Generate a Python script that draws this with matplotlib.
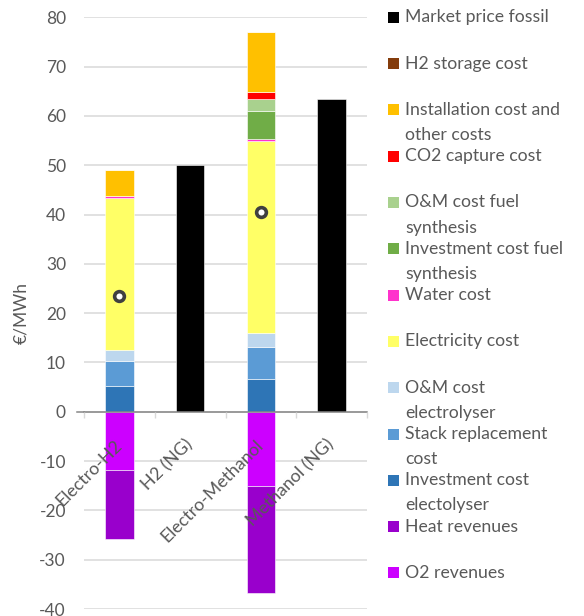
import matplotlib
matplotlib.use("Agg")
import matplotlib.pyplot as plt
import numpy as np
from matplotlib.patches import Rectangle

plt.rcParams['font.family'] = ['Lato', 'DejaVu Sans']
plt.rcParams['axes.unicode_minus'] = False

categories = ["Electro-H2", "H2 (NG)", "Electro-Methanol", "Methanol (NG)"]

# cost components per category (EUR/MWh), stacked from bottom up
invest_elec = [5.2, 0, 6.6, 0]
stack_repl = [5.1, 0, 6.5, 0]
om_elec = [2.2, 0, 2.9, 0]
electricity = [30.9, 0, 38.9, 0]
water = [0.4, 0, 0.4, 0]
invest_fuel = [0, 0, 5.6, 0]
om_fuel = [0, 0, 2.5, 0]
co2_capture = [0, 0, 1.4, 0]
h2_storage = [0, 0, 0, 0]
installation = [5.3, 0, 12.2, 0]
market_fossil = [0, 50.0, 0, 63.4]

# revenues (negative), stacked downwards
o2_rev = [-11.8, 0, -15.0, 0]
heat_rev = [-14.0, 0, -21.8, 0]

# net production cost markers
net_cost = [23.5, np.nan, 40.5, np.nan]

positive = [
    (invest_elec, "Investment cost\nelectolyser", "#2E75B6"),
    (stack_repl, "Stack replacement\ncost", "#5B9BD5"),
    (om_elec, "O&M cost\nelectrolyser", "#BDD7EE"),
    (electricity, "Electricity cost", "#FFFF66"),
    (water, "Water cost", "#FF33CC"),
    (invest_fuel, "Investment cost fuel\nsynthesis", "#70AD47"),
    (om_fuel, "O&M cost fuel\nsynthesis", "#A9D18E"),
    (co2_capture, "CO2 capture cost", "#FF0000"),
    (h2_storage, "H2 storage cost", "#843C0C"),
    (installation, "Installation cost and\nother costs", "#FFC000"),
    (market_fossil, "Market price fossil", "#000000"),
]
negative = [
    (o2_rev, "O2 revenues", "#CC00FF"),
    (heat_rev, "Heat revenues", "#9900CC"),
]

W, H = 584, 616
fig = plt.figure(figsize=(W / 100, H / 100), dpi=100)
ax = fig.add_axes([84 / W, (H - 609) / H, (367 - 84) / W, (609 - 17.3) / H])

x = np.arange(len(categories))
bar_w = 0.4
text_col = "#595959"
fs = 12.7

bottom = np.zeros(len(categories))
for vals, label, col in positive:
    v = np.array(vals, dtype=float)
    ax.bar(x, v, bar_w, bottom=bottom, color=col, edgecolor="white", linewidth=0.4, zorder=3)
    bottom += v

bottom = np.zeros(len(categories))
for vals, label, col in negative:
    v = np.array(vals, dtype=float)
    ax.bar(x, v, bar_w, bottom=bottom, color=col, edgecolor="white", linewidth=0.4, zorder=3)
    bottom += v

ax.plot(x, net_cost, "o", markersize=7, markerfacecolor="white",
        markeredgecolor="#404040", markeredgewidth=2.6, zorder=5)

ax.set_xlim(-0.5, len(categories) - 0.5)
ax.set_ylim(-40, 80)
ax.set_yticks(np.arange(-40, 81, 10))
ax.yaxis.grid(True, color="#D9D9D9", linewidth=1.1)
ax.yaxis.set_zorder(1)
ax.tick_params(axis="y", length=0, labelsize=12.5, labelcolor=text_col, pad=13)

ax.spines['left'].set_visible(False)
ax.spines['right'].set_visible(False)
ax.spines['top'].set_visible(False)
ax.spines['bottom'].set_position(('data', 0))
ax.spines['bottom'].set_color("#868686")
ax.spines['bottom'].set_linewidth(1.1)
ax.spines['bottom'].set_zorder(4)
ax.axhline(0, xmin=-0.025, xmax=0, color="#868686", linewidth=1.1, clip_on=False)

ax.set_xticks(np.arange(-0.5, len(categories), 1.0))
ax.set_xticklabels([])
ax.tick_params(axis="x", which="major", direction="out", length=4.5, width=1, color="#D9D9D9")
ax.set_xticks(x, minor=True)
ax.set_xticklabels(categories, minor=True, rotation=45, ha="right", va="center",
                   rotation_mode="anchor", fontsize=12.8, color=text_col)
ax.tick_params(axis="x", which="minor", length=0, pad=22)
ax.xaxis.set_zorder(6)

ax.set_ylabel("€/MWh", fontsize=12.5, color=text_col, labelpad=7)

# legend in Excel style: one row per entry, square aligned with first line
legend_items = [positive[10], positive[8], positive[9], positive[7], positive[6],
                positive[5], positive[4], positive[3], positive[2], positive[1],
                positive[0], negative[1], negative[0]]
y0, step, line_h = 17.3, 46.3, 25
for i, (vals, label, col) in enumerate(legend_items):
    yc = y0 + i * step
    fig.add_artist(Rectangle((388 / W, 1 - (yc + 5.5) / H), 11 / W, 11 / H,
                             transform=fig.transFigure, facecolor=col, edgecolor="none"))
    for j, line in enumerate(label.split("\n")):
        fig.text(405 / W, 1 - (yc + j * line_h) / H, line, fontsize=fs,
                 color=text_col, ha="left", va="center")

fig.savefig("out.png", dpi=100)
